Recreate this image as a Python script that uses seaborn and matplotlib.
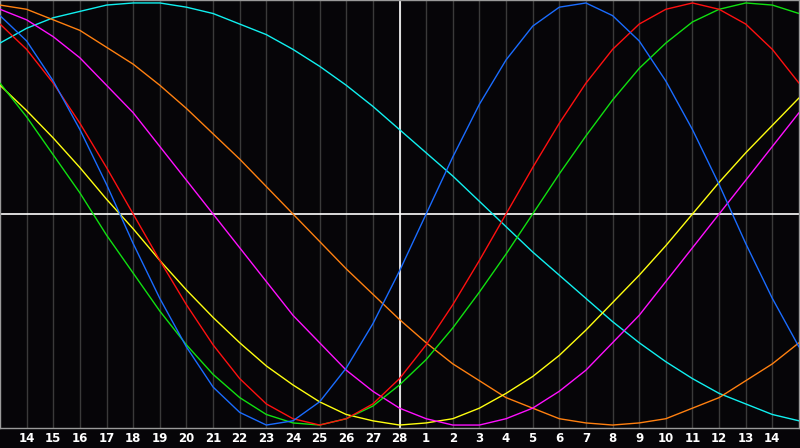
import pandas as pd
import matplotlib
matplotlib.use("Agg")
import matplotlib.pyplot as plt
import seaborn as sns

# Dias mostrados (13 feb .. 15 mar), indice 0..30
dias = list(range(31))
etiquetas = ["14", "15", "16", "17", "18", "19", "20", "21", "22", "23", "24",
             "25", "26", "27", "28", "1", "2", "3", "4", "5", "6", "7", "8",
             "9", "10", "11", "12", "13", "14"]

# Valores, uno por dia
fisico = [0.94, 0.82, 0.63, 0.40, 0.14, -0.14, -0.40, -0.63, -0.82, -0.94,
          -1.00, -0.98, -0.89, -0.73, -0.52, -0.27, 0.00, 0.27, 0.52, 0.73,
          0.89, 0.98, 1.00, 0.94, 0.82, 0.63, 0.40, 0.14, -0.14, -0.40, -0.63]
emocional = [0.90, 0.78, 0.62, 0.43, 0.22, 0.00, -0.22, -0.43, -0.62, -0.78,
             -0.90, -0.97, -1.00, -0.97, -0.90, -0.78, -0.62, -0.43, -0.22, 0.00,
             0.22, 0.43, 0.62, 0.78, 0.90, 0.97, 1.00, 0.97, 0.90, 0.78, 0.62]
intelectual = [0.62, 0.46, 0.28, 0.10, -0.10, -0.28, -0.46, -0.62, -0.76, -0.87,
               -0.95, -0.99, -1.00, -0.97, -0.91, -0.81, -0.69, -0.54, -0.37, -0.19,
               0.00, 0.19, 0.37, 0.54, 0.69, 0.81, 0.91, 0.97, 1.00, 0.99, 0.95]
intuitivo = [0.97, 0.92, 0.84, 0.74, 0.61, 0.48, 0.32, 0.16, 0.00, -0.16,
             -0.32, -0.48, -0.61, -0.74, -0.84, -0.92, -0.97, -1.00, -1.00, -0.97,
             -0.92, -0.84, -0.74, -0.61, -0.48, -0.32, -0.16, 0.00, 0.16, 0.32, 0.48]
estetico = [0.61, 0.49, 0.36, 0.22, 0.07, -0.07, -0.22, -0.36, -0.49, -0.61,
            -0.72, -0.81, -0.89, -0.95, -0.98, -1.00, -0.99, -0.97, -0.92, -0.85,
            -0.77, -0.67, -0.55, -0.42, -0.29, -0.15, 0.00, 0.15, 0.29, 0.42, 0.55]
conciencia = [0.99, 0.97, 0.92, 0.87, 0.79, 0.71, 0.61, 0.50, 0.38, 0.26,
              0.13, 0.00, -0.13, -0.26, -0.38, -0.50, -0.61, -0.71, -0.79, -0.87,
              -0.92, -0.97, -0.99, -1.00, -0.99, -0.97, -0.92, -0.87, -0.79, -0.71, -0.61]
espiritual = [0.81, 0.88, 0.93, 0.96, 0.99, 1.00, 1.00, 0.98, 0.95, 0.90,
              0.85, 0.78, 0.70, 0.61, 0.51, 0.40, 0.29, 0.18, 0.06, -0.06,
              -0.18, -0.29, -0.40, -0.51, -0.61, -0.70, -0.78, -0.85, -0.90, -0.95, -0.98]

series = {
    "espiritual": espiritual,
    "conciencia": conciencia,
    "estetico": estetico,
    "intuitivo": intuitivo,
    "intelectual": intelectual,
    "emocional": emocional,
    "fisico": fisico,
}
colores = {
    "fisico": "#1a6cff",
    "emocional": "#ff1010",
    "intelectual": "#10e010",
    "intuitivo": "#ff10ff",
    "estetico": "#ffff10",
    "conciencia": "#ff8010",
    "espiritual": "#10f0f0",
}

filas = []
for nombre, valores in series.items():
    for d, v in zip(dias, valores):
        filas.append({"dia": d, "valor": v, "ciclo": nombre})
df = pd.DataFrame(filas)

sns.set_style("dark", {"axes.facecolor": "#060508", "figure.facecolor": "#060508"})
plt.rcParams["font.family"] = ["DejaVu Sans"]

fig = plt.figure(figsize=(8, 4.48), dpi=100)
ax = fig.add_axes([0, 20 / 448, 799 / 800, 428 / 448])

# Rejilla vertical, un dia por linea
for d in range(1, 30):
    ax.axvline(d, color="#3a3a3a", lw=1, zorder=1)
ax.axvline(15, color="white", lw=1.2, zorder=2)
ax.axhline(0, color="white", lw=1.2, zorder=2)

sns.lineplot(data=df, x="dia", y="valor", hue="ciclo", palette=colores,
             hue_order=list(series.keys()), legend=False, lw=1, ax=ax, zorder=3)

ax.set_xlim(0, 30)
ax.set_ylim(-1.014, 1.014)
ax.set_xticks(range(1, 30))
ax.set_xticklabels(etiquetas, color="white", fontsize=8.5, fontweight="bold")
ax.tick_params(axis="x", length=0, pad=3)
ax.set_yticks([])
ax.set_xlabel("")
ax.set_ylabel("")
ax.grid(False)
for lado in ax.spines.values():
    lado.set_visible(True)
    lado.set_color("#9a9a9a")
    lado.set_linewidth(1)

fig.savefig("out.png", dpi=100, facecolor="#060508")
